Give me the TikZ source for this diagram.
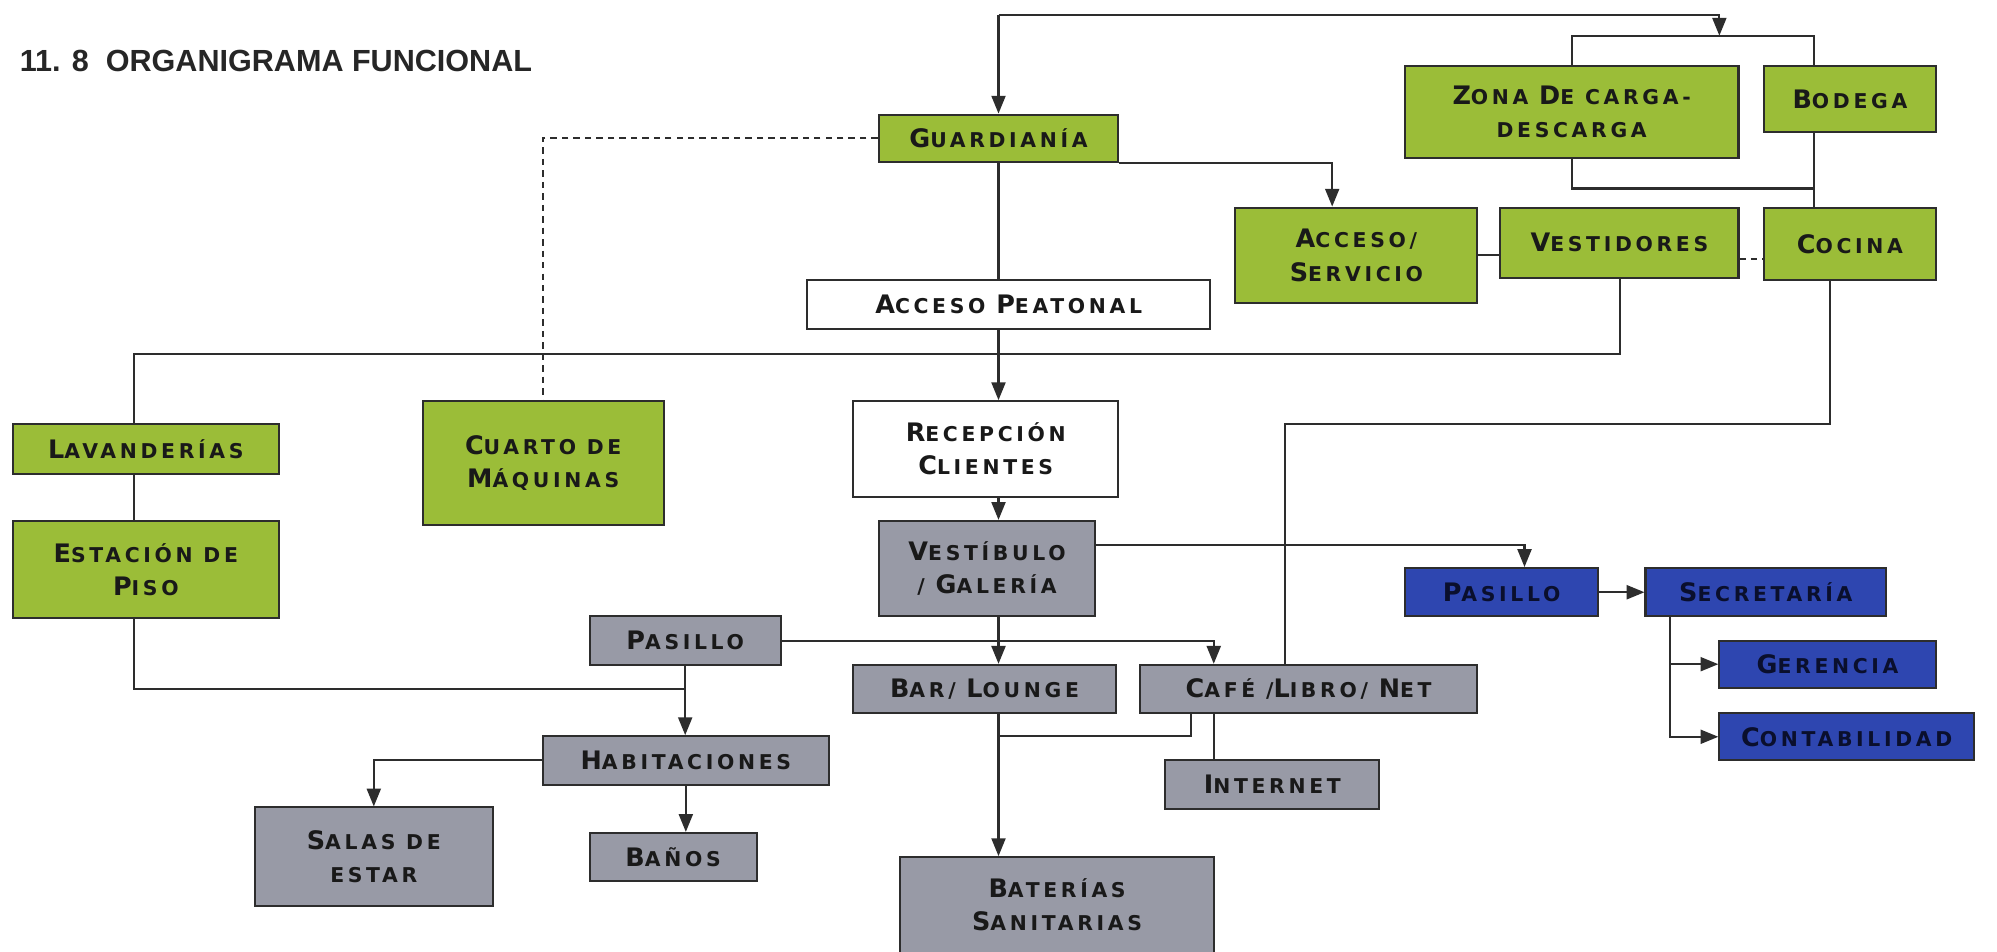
\documentclass[tikz,border=0pt]{standalone}
\usepackage{fontspec}
\usetikzlibrary{arrows.meta,calc}
\newfontfamily\boxfont{DejaVu Sans}[LetterSpace=18]
\newfontfamily\titlefont{Liberation Sans}
\newcommand\Bg[1]{{\fontsize{20}{26}\selectfont #1}}
\definecolor{grn}{RGB}{155,189,56}
\definecolor{gry}{RGB}{152,154,166}
\definecolor{blu}{RGB}{46,70,176}
\definecolor{lc}{RGB}{45,45,45}
\definecolor{txt}{RGB}{25,25,25}
\definecolor{navy}{RGB}{10,15,45}
\tikzset{
  box/.style={draw=lc, line width=1.6pt, inner sep=0pt, align=center,
    font=\boxfont\bfseries\fontsize{16}{26}\selectfont, text=txt},
  greenbox/.style={box, fill=grn},
  whitebox/.style={box, fill=white},
  graybox/.style={box, fill=gry},
  bluebox/.style={box, fill=blu, text=navy},
  ln/.style={draw=lc, line width=1.6pt},
  arr/.style={ln, -{Triangle[length=14pt,width=11pt]}},
  dsh/.style={ln, dash pattern=on 5pt off 4pt},
}
\begin{document}
\begin{tikzpicture}[x=1pt,y=-1pt]
\fill[white] (0,0) rectangle (1568,747);
\useasboundingbox (0,0) rectangle (1568,747);

\node[anchor=base west, font=\titlefont\bfseries\fontsize{24}{28}\selectfont, text=black!85] (title) at (12,56) {11. 8\ \ ORGANIGRAMA FUNCIONAL};

% nodes
\node[greenbox, minimum width=188, minimum height=37] (guard) at (784,108.5) {\Bg{G}UARDIANÍA};
\node[greenbox, minimum width=262, minimum height=72] (zona) at (1234,88) {\Bg{Z}ONA \Bg{D}E CARGA-\\DESCARGA};
\node[greenbox, minimum width=135, minimum height=52] (bodega) at (1452.5,78) {\Bg{B}ODEGA};
\node[greenbox, minimum width=190, minimum height=75] (acc) at (1065,200.5) {\Bg{A}CCESO/\\\Bg{S}ERVICIO};
\node[greenbox, minimum width=187, minimum height=55] (vest) at (1271.5,190.5) {\Bg{V}ESTIDORES};
\node[greenbox, minimum width=135, minimum height=57] (cocina) at (1452.5,191.5) {\Bg{C}OCINA};
\node[whitebox, minimum width=316, minimum height=38] (peat) at (792,239) {\Bg{A}CCESO \Bg{P}EATONAL};
\node[greenbox, minimum width=189, minimum height=97] (cuarto) at (426.5,363.5) {\Bg{C}UARTO DE\\\Bg{M}ÁQUINAS};
\node[greenbox, minimum width=209, minimum height=39] (lav) at (114.5,352.5) {\Bg{L}AVANDERÍAS};
\node[greenbox, minimum width=209, minimum height=76] (estac) at (114.5,447) {\Bg{E}STACIÓN DE\\\Bg{P}ISO};
\node[whitebox, minimum width=208, minimum height=75] (recep) at (774,352.5) {\Bg{R}ECEPCIÓN\\\Bg{C}LIENTES};
\node[graybox, minimum width=170, minimum height=75] (vestib) at (775,446.5) {\Bg{V}ESTÍBULO\\/ \Bg{G}ALERÍA};
\node[bluebox, minimum width=152, minimum height=38] (pasB) at (1179,465) {\Bg{P}ASILLO};
\node[bluebox, minimum width=189, minimum height=38] (secr) at (1386.5,465) {\Bg{S}ECRETARÍA};
\node[bluebox, minimum width=170, minimum height=37] (ger) at (1435,521.5) {\Bg{G}ERENCIA};
\node[bluebox, minimum width=200, minimum height=37] (cont) at (1450,578.5) {\Bg{C}ONTABILIDAD};
\node[graybox, minimum width=150, minimum height=38] (pasG) at (538,503) {\Bg{P}ASILLO};
\node[graybox, minimum width=206, minimum height=38] (bar) at (773,541) {\Bg{B}AR/ \Bg{L}OUNGE};
\node[graybox, minimum width=265, minimum height=38] (cafe) at (1027.5,541) {\Bg{C}AFÉ /\Bg{L}IBRO/ \Bg{N}ET};
\node[graybox, minimum width=168, minimum height=38] (inet) at (999,616) {\Bg{I}NTERNET};
\node[graybox, minimum width=225, minimum height=38] (hab) at (538.5,597) {\Bg{H}ABITACIONES};
\node[graybox, minimum width=187, minimum height=77] (salas) at (293.5,672.5) {\Bg{S}ALAS DE\\ESTAR};
\node[graybox, minimum width=131, minimum height=38] (banos) at (528.5,673) {\Bg{B}AÑOS};
\node[graybox, minimum width=246, minimum height=75] (bater) at (830,710.5) {\Bg{B}ATERÍAS\\\Bg{S}ANITARIAS};

% helper coordinates
\coordinate (spine) at (784,0);
\coordinate (ttop) at (784,12);
\coordinate (brk) at (1350,28);
\coordinate (bkR) at (1424,28);
\coordinate (bkB) at (1424,148);
\coordinate (accx) at (1046,0);
\coordinate (dy) at (0,203);
\coordinate (lavx) at (105,0);
\coordinate (bigR) at (1272,278);
\coordinate (vpy) at (0,428);
\coordinate (pbx) at (1197,0);
\coordinate (ckx) at (1437,0);
\coordinate (cky) at (0,333);
\coordinate (cfx) at (1009,0);
\coordinate (sx) at (1311,0);
\coordinate (c1x) at (953,0);
\coordinate (c2x) at (935,0);
\coordinate (ey) at (0,541);
\coordinate (cy2) at (0,578);

% connectors
\draw[arr] (ttop) -- (guard.north);
\draw[arr] (ttop) -| (brk);
\draw[ln] (zona.north) |- (bkR) -- (bkR |- bodega.north);
\draw[ln] (zona.south) |- (bkB);
\draw[ln] (bkB |- bodega.south) -- (bkB |- cocina.north);
\draw[arr] (guard.south east) -| (accx |- acc.north);
\draw[ln] (acc.east) -- (acc.east -| vest.west);
\draw[dsh] (vest.east |- dy) -- (cocina.west |- dy);
\draw[ln] (guard.south) -- (spine |- peat.north);
\draw[dsh] (guard.west) -| (cuarto.north);
\draw[ln] (lavx |- lav.north) |- (bigR) -- (bigR |- vest.south);
\draw[arr] (spine |- peat.south) -- (spine |- recep.north);
\draw[arr] (spine |- recep.south) -- (spine |- vestib.north);
\draw[ln] (lavx |- lav.south) -- (lavx |- estac.north);
\draw[arr] (vestib.east |- vpy) -| (pbx |- pasB.north);
\draw[ln] (ckx |- cocina.south) |- (cfx |- cky) -- (cfx |- cafe.north);
\draw[arr] (pasB.east) -- (secr.west);
\draw[arr] (sx |- secr.south) |- (ger.west);
\draw[arr] (sx |- secr.south) |- (cont.west);
\draw[arr] (spine |- vestib.south) -- (spine |- bar.north);
\draw[arr] (pasG.east) -| (c1x |- cafe.north);
\draw[ln] (lavx |- estac.south) |- (pasG.south |- ey);
\draw[arr] (pasG.south) -- (pasG.south |- hab.north);
\draw[arr] (hab.west) -| (salas.north);
\draw[arr] (hab.south) -- (hab.south |- banos.north);
\draw[arr] (spine |- bar.south) -- (spine |- bater.north);
\draw[ln] (c2x |- cafe.south) |- (spine |- cy2);
\draw[ln] (c1x |- cafe.south) -- (c1x |- inet.north);
\end{tikzpicture}
\end{document}
